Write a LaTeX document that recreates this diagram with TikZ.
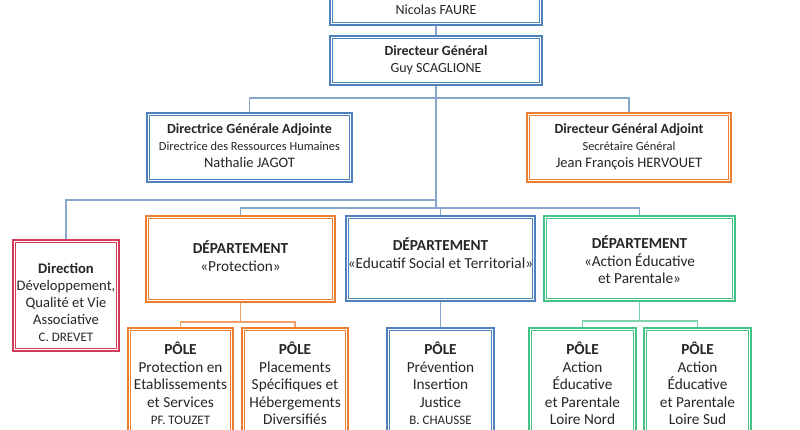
\documentclass[tikz,border=0pt]{standalone}
\usepackage{fontspec}
\setmainfont{Carlito}
\definecolor{cBlue}{HTML}{4F81BD}
\definecolor{cOrange}{HTML}{ED7D31}
\definecolor{cGreen}{HTML}{45C285}
\definecolor{cRed}{HTML}{D23C5A}
\definecolor{lBlue}{HTML}{86A6CB}
\definecolor{lOrange}{HTML}{F0A06A}
\definecolor{lGreen}{HTML}{7CD3A8}
\definecolor{txt}{HTML}{262626}
\newcommand\szA{\fontsize{14}{17}\selectfont}
\newcommand\szB{\fontsize{12.4}{15.5}\selectfont}
\newcommand\szC{\fontsize{15.3}{17.5}\selectfont}
\newcommand\szD{\fontsize{13}{15}\selectfont}
\newcommand\szE{\fontsize{14.6}{17}\selectfont}
\tikzset{
  box/.style={draw=#1, line width=2pt, fill=white, inner sep=0pt,
    path picture={\draw[#1, line width=0.8pt]
      ([shift={(2.6pt,2.6pt)}]path picture bounding box.south west) rectangle
      ([shift={(-2.6pt,-2.6pt)}]path picture bounding box.north east);}},
  label text/.style={align=center, inner sep=0pt, text=txt},
  conB/.style={draw=lBlue, line width=1.5pt},
  conO/.style={draw=lOrange, line width=1.5pt},
  conG/.style={draw=lGreen, line width=1.5pt},
}
\begin{document}
\begin{tikzpicture}[x=1pt,y=-1pt]
\path[use as bounding box] (0,0) rectangle (800,430);
\clip (0,0) rectangle (800,430);
\fill[white] (0,0) rectangle (800,430);

% boxes
\node[box=cBlue, minimum width=212pt, minimum height=55pt] (top) at (436,-2.5) {};
\node[box=cBlue, minimum width=212pt, minimum height=49pt] (dg) at (436,60.5) {};
\node[box=cBlue, minimum width=205pt, minimum height=69pt] (dgaL) at (249.5,147.5) {};
\node[box=cOrange, minimum width=204pt, minimum height=69pt] (dgaR) at (629,147.5) {};
\node[box=cRed, minimum width=106pt, minimum height=111pt] (dir) at (66,295.5) {};
\node[box=cOrange, minimum width=189pt, minimum height=86pt] (dProt) at (240.5,259) {};
\node[box=cBlue, minimum width=189pt, minimum height=85pt] (dEst) at (440.5,258.5) {};
\node[box=cGreen, minimum width=191pt, minimum height=85pt] (dAep) at (639.5,258.5) {};
\node[box=cOrange, minimum width=105pt, minimum height=132pt] (p1) at (180.5,394) {};
\node[box=cOrange, minimum width=106pt, minimum height=132pt] (p2) at (295,394) {};
\node[box=cBlue, minimum width=107pt, minimum height=132pt] (p3) at (440.5,394) {};
\node[box=cGreen, minimum width=107pt, minimum height=132pt] (p4) at (582.5,394) {};
\node[box=cGreen, minimum width=107pt, minimum height=132pt] (p5) at (697.5,394) {};

% connectors
\coordinate (jA) at (436,98);
\coordinate (jB) at (436,200);
\coordinate (jC) at (436,208);
\draw[conB] (top.south) -- (dg.north);
\draw[conB] (dg.south) -- (jC);
\draw[conB] (jA) -| (dgaL.north);
\draw[conB] (jA) -| (dgaR.north);
\draw[conB] (jB) -| (dir.north);
\draw[conB] (jC) -| (dProt.north);
\draw[conB] (jC) -| (dEst.north);
\draw[conB] (jC) -| (dAep.north);
\draw[conO] (dProt.south) -- ++(0,19) coordinate (jP);
\draw[conO] (jP) -| (p1.north);
\draw[conO] (jP) -| (p2.north);
\draw[conB] (dEst.south) -- (p3.north);
\draw[conG] (dAep.south) -- ++(0,19) coordinate (jG);
\draw[conG] (jG) -| (p4.north);
\draw[conG] (jG) -| (p5.north);

% texts
\node[label text, font=\szA] (tTop) at (436,10) {Nicolas FAURE};
\node[label text, font=\szA] (tDg) at (436,60) {\textbf{Directeur Général}\\Guy SCAGLIONE};
\node[label text, font=\szA] (tDgaL) at (249.5,146) {\textbf{Directrice Générale Adjointe}\\{\szB Directrice des Ressources Humaines}\\{\fontsize{14.5}{16}\selectfont Nathalie JAGOT}};
\node[label text, font=\szA] (tDgaR) at (629,147) {\textbf{Directeur Général Adjoint}\\{\szB Secrétaire Général}\\{\fontsize{14.5}{16}\selectfont Jean François HERVOUET}};
\node[label text, font=\szE, anchor=north] (tDir) at (66,263) {\textbf{Direction}\\Développement,\\Qualité et Vie\\Associative\\{\szD C. DREVET}};
\node[label text, font=\szC] (tProt) at (240.5,256) {\textbf{DÉPARTEMENT}\\«Protection»};
\node[label text, font=\szC] (tEst) at (440.5,253) {\textbf{DÉPARTEMENT}\\«Educatif Social et Territorial»};
\node[label text, font=\szC] (tAep) at (639.5,260) {\textbf{DÉPARTEMENT}\\«Action Éducative\\et Parentale»};
\node[label text, font=\szC, anchor=north] (tP1) at (180.5,342) {\textbf{PÔLE}\\Protection en\\Etablissements\\et Services\\{\szD PF. TOUZET}};
\node[label text, font=\szC, anchor=north] (tP2) at (295,342) {\textbf{PÔLE}\\Placements\\Spécifiques et\\Hébergements\\Diversifiés};
\node[label text, font=\szC, anchor=north] (tP3) at (440.5,342) {\textbf{PÔLE}\\Prévention\\Insertion\\Justice\\{\szD B. CHAUSSE}};
\node[label text, font=\szC, anchor=north] (tP4) at (582.5,342) {\textbf{PÔLE}\\Action\\Éducative\\et Parentale\\Loire Nord};
\node[label text, font=\szC, anchor=north] (tP5) at (697.5,342) {\textbf{PÔLE}\\Action\\Éducative\\et Parentale\\Loire Sud};
\end{tikzpicture}
\end{document}
